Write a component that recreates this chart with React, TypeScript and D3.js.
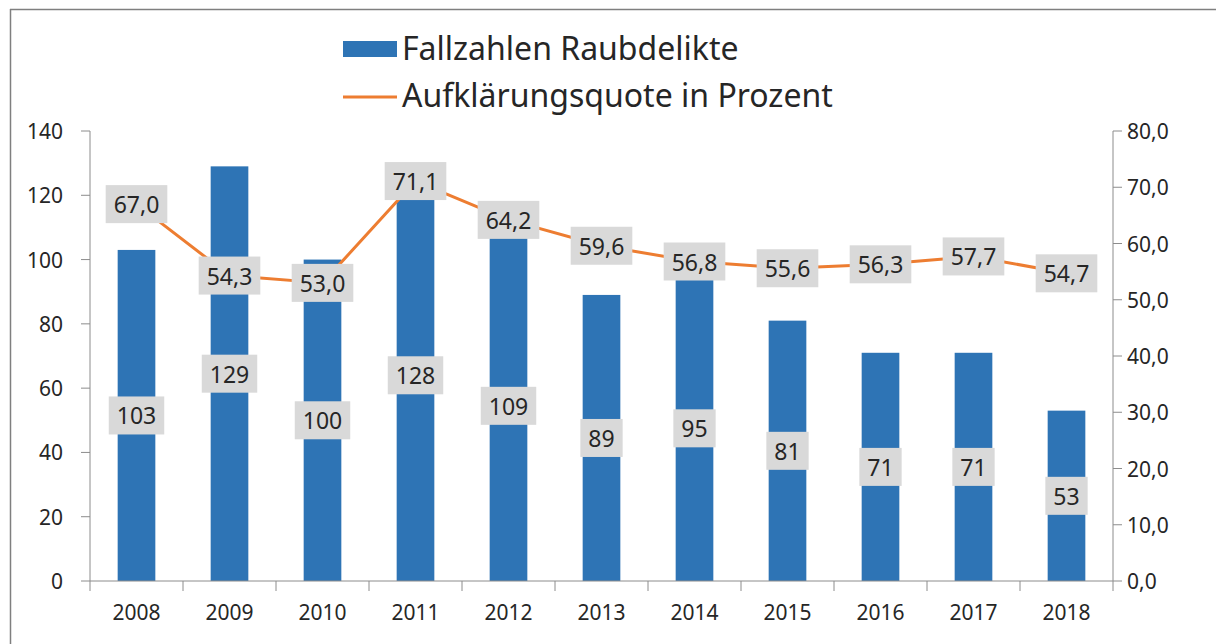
import React, {useEffect, useRef} from 'react'
import * as d3 from 'd3'

const years = ['2008', '2009', '2010', '2011', '2012', '2013', '2014', '2015', '2016', '2017', '2018']
const cases = [103, 129, 100, 128, 109, 89, 95, 81, 71, 71, 53]
const quote = [67.0, 54.3, 53.0, 71.1, 64.2, 59.6, 56.8, 55.6, 56.3, 57.7, 54.7]
const leftTicks = [0, 20, 40, 60, 80, 100, 120, 140]
const rightTicks = [0, 10, 20, 30, 40, 50, 60, 70, 80]
const seriesNames = ['Fallzahlen Raubdelikte', 'Aufklärungsquote in Prozent']

const W = 1216, H = 644
const plot = {left: 90, right: 1113, top: 131, bottom: 581}
const font = '"Noto Sans", "Open Sans", sans-serif'
const barColor = '#2E74B5'
const lineColor = '#ED7D31'
const axisColor = '#8c8c8c'
const textColor = '#262626'
const boxColor = '#d9d9d9'

const fmt = (v: number) => v.toFixed(1).replace('.', ',')

function labelBox(g: any, x: number, y: number, txt: string, size: number) {
  const grp = g.append('g')
  const t = grp.append('text')
    .attr('x', x).attr('y', y)
    .attr('text-anchor', 'middle')
    .attr('dominant-baseline', 'central')
    .attr('font-family', font)
    .attr('font-size', size)
    .attr('fill', textColor)
    .text(txt)
  const w = (t.node() as SVGTextElement).getComputedTextLength()
  grp.insert('rect', 'text')
    .attr('x', x - w / 2 - 8).attr('y', y - 19)
    .attr('width', w + 16).attr('height', 38)
    .attr('fill', boxColor)
}

export default function App() {
  const ref = useRef<SVGSVGElement>(null)

  useEffect(() => {
    const svg = d3.select(ref.current)
    svg.selectAll('*').remove()

    const x = d3.scaleBand().domain(years).range([plot.left, plot.right]).paddingInner(0).paddingOuter(0)
    const yL = d3.scaleLinear().domain([0, 140]).range([plot.bottom, plot.top])
    const yR = d3.scaleLinear().domain([0, 80]).range([plot.bottom, plot.top])
    const barW = x.bandwidth() * 0.405
    const cx = (d: string) => (x(d) as number) + x.bandwidth() / 2

    // frame
    svg.append('line').attr('x1', 10).attr('x2', W).attr('y1', 9.5).attr('y2', 9.5).attr('stroke', '#7f7f7f').attr('stroke-width', 1.5)
    svg.append('line').attr('x1', 10.5).attr('x2', 10.5).attr('y1', 9).attr('y2', H).attr('stroke', '#7f7f7f').attr('stroke-width', 1.5)

    // legend
    const lg = svg.append('g')
    lg.append('rect').attr('x', 343).attr('y', 41).attr('width', 54).attr('height', 16).attr('fill', barColor)
    lg.append('line').attr('x1', 343).attr('x2', 397).attr('y1', 97).attr('y2', 97).attr('stroke', lineColor).attr('stroke-width', 3)
    lg.selectAll('text.leg').data(seriesNames).join('text')
      .attr('x', 402).attr('y', (d, i) => 60 + i * 47)
      .attr('font-family', font).attr('font-size', 32).attr('fill', textColor)
      .text(d => d)

    // left axis
    const la = svg.append('g')
    la.append('line').attr('x1', plot.left).attr('x2', plot.left).attr('y1', plot.top).attr('y2', plot.bottom).attr('stroke', axisColor)
    la.selectAll('line.t').data(leftTicks).join('line')
      .attr('x1', plot.left - 9).attr('x2', plot.left).attr('y1', d => yL(d)).attr('y2', d => yL(d)).attr('stroke', axisColor)
    la.selectAll('text').data(leftTicks).join('text')
      .attr('x', 63).attr('y', d => yL(d)).attr('text-anchor', 'end').attr('dominant-baseline', 'central')
      .attr('font-family', font).attr('font-size', 21).attr('fill', textColor)
      .text(d => String(d))

    // right axis
    const ra = svg.append('g')
    ra.append('line').attr('x1', plot.right).attr('x2', plot.right).attr('y1', plot.top).attr('y2', plot.bottom).attr('stroke', axisColor)
    ra.selectAll('line.t').data(rightTicks).join('line')
      .attr('x1', plot.right).attr('x2', plot.right + 9).attr('y1', d => yR(d)).attr('y2', d => yR(d)).attr('stroke', axisColor)
    ra.selectAll('text').data(rightTicks).join('text')
      .attr('x', 1127).attr('y', d => yR(d)).attr('dominant-baseline', 'central')
      .attr('font-family', font).attr('font-size', 21).attr('fill', textColor)
      .text(d => fmt(d))

    // bars
    svg.append('g').selectAll('rect').data(cases).join('rect')
      .attr('x', (d, i) => cx(years[i]) - barW / 2)
      .attr('y', d => yL(d))
      .attr('width', barW)
      .attr('height', d => yL(0) - yL(d))
      .attr('fill', barColor)

    // x axis
    const xa = svg.append('g')
    xa.append('line').attr('x1', plot.left).attr('x2', plot.right).attr('y1', plot.bottom).attr('y2', plot.bottom).attr('stroke', axisColor)
    const bounds = years.map(d => x(d) as number).concat([plot.right])
    xa.selectAll('line.t').data(bounds).join('line')
      .attr('x1', d => d).attr('x2', d => d).attr('y1', plot.bottom).attr('y2', plot.bottom + 10).attr('stroke', axisColor)
    xa.selectAll('text').data(years).join('text')
      .attr('x', d => cx(d)).attr('y', 612).attr('text-anchor', 'middle').attr('dominant-baseline', 'central')
      .attr('font-family', font).attr('font-size', 21).attr('fill', textColor)
      .text(d => d)

    // bar labels
    const bl = svg.append('g')
    cases.forEach((v, i) => labelBox(bl, cx(years[i]), yL(v / 2), String(v), 23))

    // line
    const line = d3.line<number>().x((d, i) => cx(years[i])).y(d => yR(d))
    svg.append('path').datum(quote).attr('d', line).attr('fill', 'none')
      .attr('stroke', lineColor).attr('stroke-width', 3).attr('stroke-linejoin', 'round')

    // line labels
    const ql = svg.append('g')
    quote.forEach((v, i) => labelBox(ql, cx(years[i]), yR(v), fmt(v), 23))
  }, [])

  return (
    <svg ref={ref} width={W} height={H}
      style={{position: 'absolute', left: 0, top: 0, background: '#fff', display: 'block'}} />
  )
}
